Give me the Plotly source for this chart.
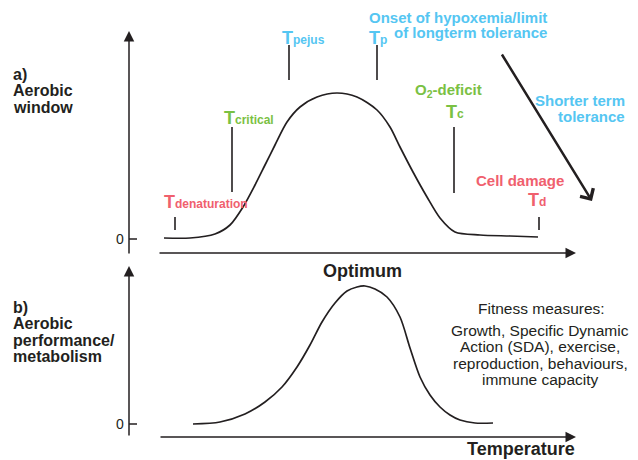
import plotly.graph_objects as go

# ---- data (schematic) ----
curve_a_temp = [164, 190, 215, 230, 243, 255, 265, 275, 287, 300, 317, 337, 357, 377, 390, 400, 413, 427, 440, 455, 480, 510, 538]
curve_a_window = [238, 238, 234, 225, 207, 185, 165, 145, 122, 107, 97, 93, 97, 110, 127, 147, 172, 197, 218, 232, 235, 236, 237]

curve_b_temp = [193, 220, 245, 265, 282, 297, 310, 322, 335, 347, 357, 365, 375, 387, 400, 410, 420, 430, 440, 450, 460, 475, 493]
curve_b_perf = [424, 422, 414, 402, 387, 367, 345, 322, 303, 291, 287, 286, 289, 297, 317, 348, 377, 395, 407, 415, 420, 423, 423]

marker_names = ["denaturation", "critical", "pejus", "p", "c", "d"]
marker_x = [175, 232, 289, 377, 454, 539]
marker_top = [217, 127, 45, 45, 127, 217]
marker_bottom = [230, 192, 80, 80, 193, 230]

zero_label = "0"

RED = "#F0606E"
GREEN = "#7AC143"
CYAN = "#55C6F2"
DARK = "#231F20"
FONT = "Liberation Sans, Arial, sans-serif"

fig = go.Figure()

fig.add_trace(go.Scatter(x=curve_a_temp, y=curve_a_window, mode="lines",
                         line=dict(color=DARK, width=1.7, shape="spline", smoothing=0.8),
                         hoverinfo="skip", showlegend=False))
fig.add_trace(go.Scatter(x=curve_b_temp, y=curve_b_perf, mode="lines",
                         line=dict(color=DARK, width=1.7, shape="spline", smoothing=0.8),
                         hoverinfo="skip", showlegend=False))

# marker lines
for mx, t, b in zip(marker_x, marker_top, marker_bottom):
    fig.add_shape(type="line", xref="x", yref="y", x0=mx, x1=mx, y0=t, y1=b,
                  line=dict(color=DARK, width=1.6))

# zero ticks
for ty in [239, 424]:
    fig.add_shape(type="line", xref="x", yref="y", x0=129, x1=137, y0=ty, y1=ty,
                  line=dict(color=DARK, width=1.5))
    fig.add_annotation(x=126, y=ty, xref="x", yref="y", text=zero_label, showarrow=False,
                       xanchor="right", yanchor="middle",
                       font=dict(family=FONT, size=14, color=DARK))

def arrow(tail, tip, width=1.5, head=2, size=1.4, color=DARK):
    fig.add_annotation(x=tip[0], y=tip[1], ax=tail[0], ay=tail[1], xref="x", yref="y",
                       axref="x", ayref="y", text="", showarrow=True, arrowhead=head,
                       arrowwidth=width, arrowsize=size, arrowcolor=color, standoff=0)

# axes
arrow((129, 255), (129, 31))
arrow((158, 253), (576, 253))
arrow((129, 437), (129, 266))
arrow((159, 437), (576, 437))
# tolerance arrow
arrow((501, 53), (592, 201), width=2.5, head=4, size=1.2)

def text(x, y, s, size=15, color=DARK, bold=True, xanchor="center"):
    if bold:
        s = "<b>" + s + "</b>"
    fig.add_annotation(x=x, y=y, xref="x", yref="y", text=s, showarrow=False,
                       xanchor=xanchor, yanchor="middle",
                       font=dict(family=FONT, size=size, color=color))

def tlabel(x, y, sub, color):
    s = "<span style='font-size:18px'>T</span><span style='font-size:12px'>" + sub + "</span>"
    text(x, y, s, size=18, color=color, xanchor="left")

tlabel(162, 202, marker_names[0], RED)
tlabel(222, 118, marker_names[1], GREEN)
tlabel(280, 38, marker_names[2], CYAN)
tlabel(367, 38, marker_names[3], CYAN)
tlabel(444, 112, marker_names[4], GREEN)
tlabel(526, 200, marker_names[5], RED)

text(549, 17, "Onset of hypoxemia/limit", color=CYAN, xanchor="right")
text(549, 32, "of longterm tolerance", color=CYAN, xanchor="right")
text(448, 90, "O<sub>2</sub>-deficit", color=GREEN)
text(627, 100, "Shorter term", color=CYAN, xanchor="right")
text(627, 116, "tolerance", color=CYAN, xanchor="right")
text(520, 180, "Cell damage", color=RED)

for i, s in enumerate(["a)", "Aerobic", "window"]):
    text(11, 74 + 16.5 * i, s, size=16, xanchor="left")
for i, s in enumerate(["b)", "Aerobic", "performance/", "metabolism"]):
    text(11, 307 + 16.5 * i, s, size=16, xanchor="left")

text(362, 271, "Optimum", size=18)
text(521, 449, "Temperature", size=18)

text(541, 308, "Fitness measures:", size=15.5, bold=False)
for i, s in enumerate(["Growth, Specific Dynamic", "Action (SDA), exercise,",
                       "reproduction, behaviours,", "immune capacity"]):
    text(540, 330 + 16.5 * i, s, size=15.5, bold=False)

fig.update_layout(width=638, height=460, margin=dict(l=0, r=0, t=0, b=0),
                  paper_bgcolor="white", plot_bgcolor="white",
                  xaxis=dict(range=[0, 638], visible=False, fixedrange=True),
                  yaxis=dict(range=[460, 0], visible=False, fixedrange=True),
                  showlegend=False)

fig.write_html("out.html")
